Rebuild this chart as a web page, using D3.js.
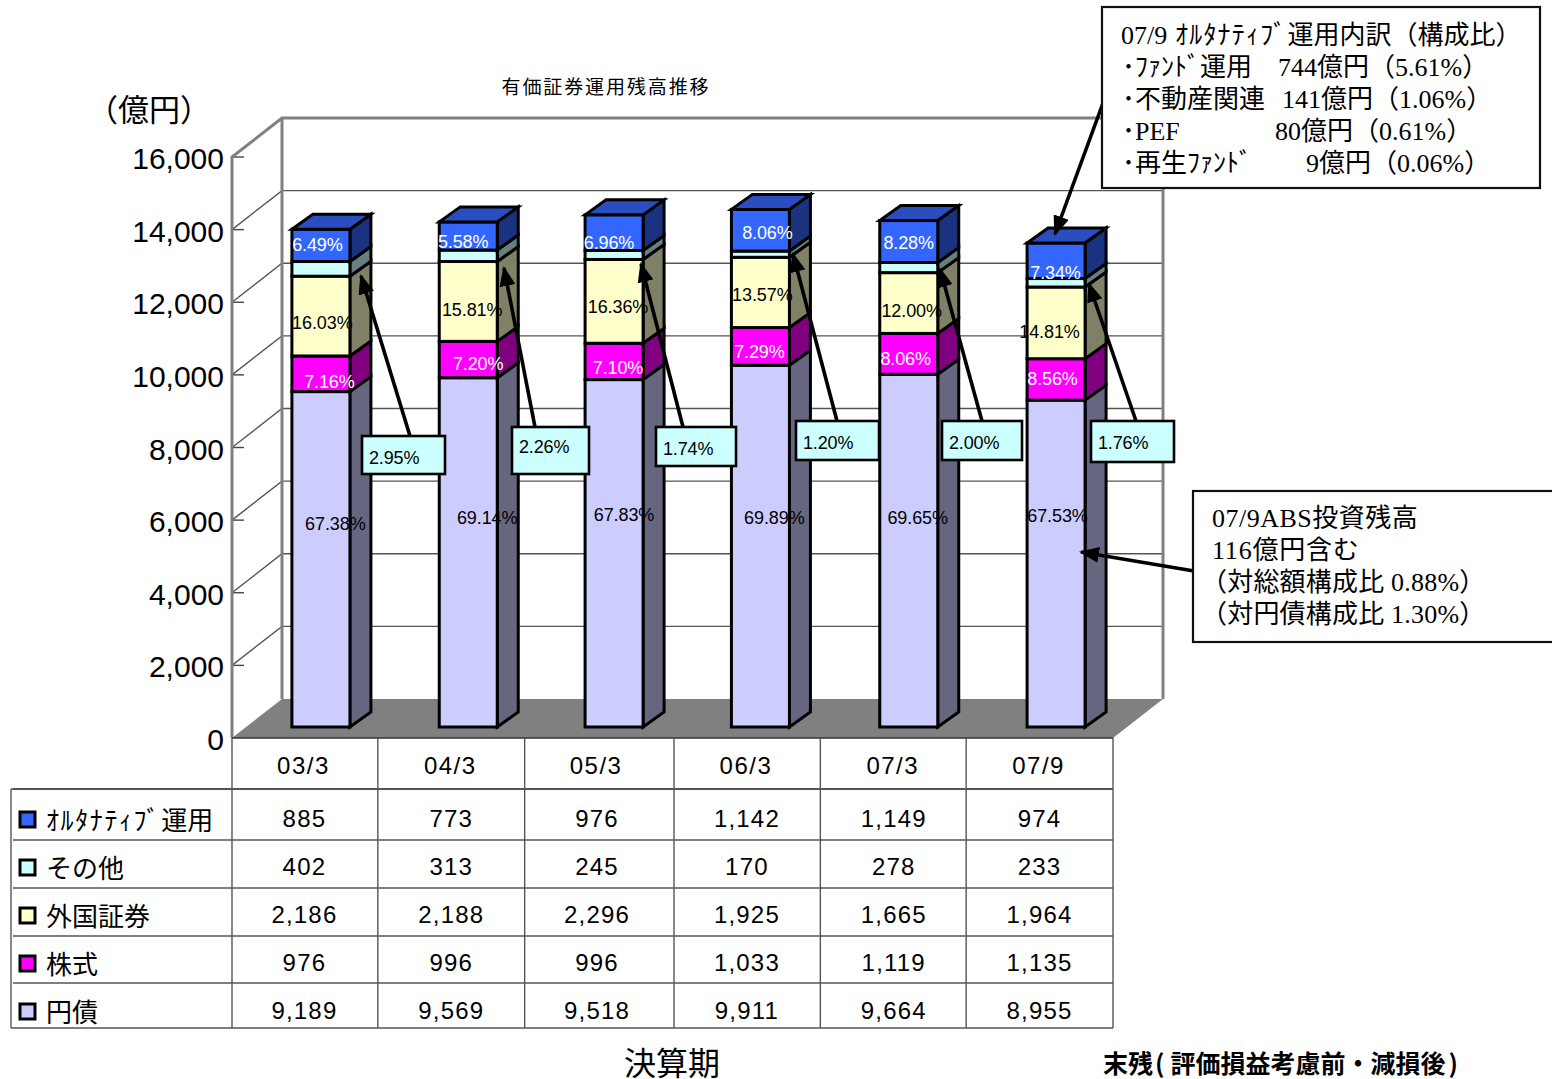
<!DOCTYPE html>
<html><head><meta charset="utf-8">
<script src="https://cdn.jsdelivr.net/npm/d3@7"></script>
<style>
html,body{margin:0;padding:0;background:#fff}
svg{display:block}
text{fill:#000}
</style></head><body><svg id="c" width="1552" height="1079"></svg>
<script>
// ---- data ----
const categories = ["03/3","04/3","05/3","06/3","07/3","07/9"];
const yenBonds  = [9189,9569,9518,9911,9664,8955];
const equities  = [976,996,996,1033,1119,1135];
const foreign   = [2186,2188,2296,1925,1665,1964];
const others    = [402,313,245,170,278,233];
const alternatives = [885,773,976,1142,1149,974];
const seriesNames = ["円債","株式","外国証券","その他","ｵﾙﾀﾅﾃｨﾌﾞ運用"];
const yTicks = [0,2000,4000,6000,8000,10000,12000,14000,16000];
const pctYen = ["67.38%","69.14%","67.83%","69.89%","69.65%","67.53%"];
const pctEq  = ["7.16%","7.20%","7.10%","7.29%","8.06%","8.56%"];
const pctFor = ["16.03%","15.81%","16.36%","13.57%","12.00%","14.81%"];
const pctOth = ["2.95%","2.26%","1.74%","1.20%","2.00%","1.76%"];
const pctAlt = ["6.49%","5.58%","6.96%","8.06%","8.28%","7.34%"];

// ---- styling ----
const faceColors = ["#CCCCFF","#FF00FF","#FFFFCC","#CCFFFF","#3366FF"];
const sideColors = ["#666680","#800080","#808066","#668080","#1A3380"];
const topColor = "#2A4DBF";
const GOTHIC = "'Noto Sans CJK JP','Noto Sans',sans-serif";
const SANS = "'Liberation Sans',Arial,sans-serif";
const SERIF = "'Liberation Serif','Noto Sans CJK JP',serif";

// label nudges relative to the centre of each segment (dx,dy), by series then category
const nudge = {
  0:[[14,-36],[19,-35],[9,-39],[12.5,-29],[9,-33.5],[2,-49]],
  1:[[8,7],[10,3.5],[3,6],[-2.5,5],[-3,4],[-3,-1.5]],
  2:[[1,6],[4,8],[3,5],[.5,2],[3,7],[-6,8]],
  4:[[-4,-1],[-5,5],[-6,9],[5.5,2],[0,0],[0,11]]
};
// small per-column offsets of the drawing
const barNudge = [0.5,1,0,-.5,1,1.5];
const columnNudge = [0,0,-1,2,2,1];
const ruleNudge = [0,-1,-1,1.5,1,0];
// callouts for the その他 share: box [x,y,w,h], arrow start, arrow tip
const calloutBox = [[362,436,83,38],[512,427,77,47],[656,427,80,39],[796,421,83,39],[942,421,80,39],[1091,421,83,41]];
const calloutTail = [[410,436],[535,427],[683,427],[837,421],[982,421],[1136,421]];
const calloutTip = [[361,276],[504,268],[641,264],[793,254],[940,269],[1089,284]];

// ---- scales ----
const x = d3.scaleBand().domain(categories).range([232,1113]);
const y = d3.scaleLinear().domain([0,16000]).range([738,157]);
const yBar = d3.scaleLinear().domain([0,16000]).range([727,143]);
const depthX = 50, depthY = 39;       // floor depth
const barDX = 21, barDY = 15;         // bar depth
const barW = 58;

const svg = d3.select("#c");
const defs = svg.append("defs");
defs.append("marker").attr("id","ah").attr("markerUnits","userSpaceOnUse")
  .attr("markerWidth",20).attr("markerHeight",16).attr("refX",18).attr("refY",8).attr("orient","auto")
  .append("path").attr("d","M0,0L20,8L0,16Z").attr("fill","#000");

// ---- walls ----
const x0 = x.range()[0], x1 = x.range()[1], y0 = y(0), yT = y(16000);
svg.append("path").attr("d",`M${x0},${y0}L${x0+depthX},${y0-depthY}L${x1+depthX},${y0-depthY}L${x1},${y0}Z`).attr("fill","#808080");

const grid = svg.append("g");
yTicks.forEach(t=>{
  if(t===0) return;
  const yy = y(t);
  if(t<16000){
    grid.append("path").attr("d",`M${x0},${yy}L${x0+depthX},${yy-depthY}L${x1+depthX},${yy-depthY}`)
      .attr("fill","none").attr("stroke","#555").attr("stroke-width",1.4);
  }
  grid.append("line").attr("x1",x0).attr("x2",x0+12).attr("y1",yy).attr("y2",yy).attr("stroke","#444").attr("stroke-width",1.4);
});
svg.append("path").attr("d",`M${x0},${y0}L${x0},${yT}L${x0+depthX},${yT-depthY}L${x1+depthX},${yT-depthY}L${x1+depthX},${y0-depthY}`)
  .attr("fill","none").attr("stroke","#808080").attr("stroke-width",3);
svg.append("line").attr("x1",x0+depthX).attr("x2",x0+depthX).attr("y1",yT-depthY).attr("y2",y0-depthY).attr("stroke","#808080").attr("stroke-width",3);

// y labels
svg.append("g").selectAll("text").data(yTicks).join("text")
  .attr("x",224).attr("y",d=>y(d)+12).attr("text-anchor","end")
  .style("font",`30px ${SANS}`).text(d=>d3.format(",")(d));

// ---- stacked bars ----
const rows = categories.map((c,i)=>({c,i,"0":yenBonds[i],"1":equities[i],"2":foreign[i],"3":others[i],"4":alternatives[i]}));
const stacked = d3.stack().keys(["0","1","2","3","4"])(rows);
const barLeft = d => x(d.c)+x.bandwidth()/2+15-barW/2+barNudge[d.i];
const gBars = svg.append("g");
stacked.forEach((layer,s)=>{
  layer.forEach(d=>{
    const L = barLeft(d.data), R = L+barW, a = yBar(d[0]), b = yBar(d[1]);
    gBars.append("path").attr("d",`M${R},${a}L${R+barDX},${a-barDY}L${R+barDX},${b-barDY}L${R},${b}Z`)
      .attr("fill",sideColors[s]).attr("stroke","#000").attr("stroke-width",3).attr("stroke-linejoin","miter");
    gBars.append("rect").attr("x",L).attr("y",b).attr("width",barW).attr("height",a-b)
      .attr("fill",faceColors[s]).attr("stroke","#000").attr("stroke-width",3);
    if(s===4){
      gBars.append("path").attr("d",`M${L},${b}L${L+barDX},${b-barDY}L${R+barDX},${b-barDY}L${R},${b}Z`)
        .attr("fill",topColor).attr("stroke","#000").attr("stroke-width",3);
    }
  });
});

// percentage labels
const pctSets = {0:pctYen,1:pctEq,2:pctFor,4:pctAlt};
const labelColors = {0:"#000",1:"#fff",2:"#000",4:"#fff"};
Object.keys(pctSets).forEach(sk=>{
  const s = +sk;
  stacked[s].forEach((d,i)=>{
    const cx = x(d.data.c)+x.bandwidth()/2+16, cy = (yBar(d[0])+yBar(d[1]))/2;
    const lab = pctSets[s][i];
    svg.append("text").attr("x",cx+nudge[s][i][0]).attr("y",cy+nudge[s][i][1]+7)
      .attr("text-anchor","middle").attr("textLength",lab.length*10.1).attr("lengthAdjust","spacing")
      .style("font",`18px ${SANS}`).style("fill",labelColors[s]).text(lab);
  });
});

// callouts
const gCall = svg.append("g");
pctOth.forEach((lab,i)=>{
  gCall.append("line").attr("x1",calloutTail[i][0]).attr("y1",calloutTail[i][1]).attr("x2",calloutTip[i][0]).attr("y2",calloutTip[i][1])
    .attr("stroke","#000").attr("stroke-width",3.6).attr("marker-end","url(#ah)");
  const b = calloutBox[i];
  gCall.append("rect").attr("x",b[0]).attr("y",b[1]).attr("width",b[2]).attr("height",b[3])
    .attr("fill","#CCFFFF").attr("stroke","#000").attr("stroke-width",2.6);
  gCall.append("text").attr("x",b[0]+7).attr("y",b[1]+28-(b[3]>45?2:0))
    .attr("textLength",lab.length*10.1).attr("lengthAdjust","spacing")
    .style("font",`18px ${SANS}`).text(lab);
});

// ---- data table ----
const rowLines = [789,840,888,936,983];
const tableBottom = 1028, tableLeft = 11;
const gT = svg.append("g");
rowLines.forEach(yy=>gT.append("line").attr("x1",tableLeft+2).attr("x2",x1).attr("y1",yy).attr("y2",yy).attr("stroke","#555").attr("stroke-width",1.4));
gT.append("line").attr("x1",tableLeft).attr("x2",x1).attr("y1",tableBottom).attr("y2",tableBottom).attr("stroke","#555").attr("stroke-width",1.4);
gT.append("line").attr("x1",tableLeft).attr("x2",x1).attr("y1",789).attr("y2",789).attr("stroke","#444").attr("stroke-width",1.4);
gT.append("line").attr("x1",x0).attr("x2",x1).attr("y1",y0).attr("y2",y0).attr("stroke","#333").attr("stroke-width",1.4);
gT.append("line").attr("x1",tableLeft).attr("x2",tableLeft).attr("y1",789).attr("y2",tableBottom).attr("stroke","#555").attr("stroke-width",1.4);
categories.forEach((c,i)=>{
  const xx = x(c)+ruleNudge[i];
  gT.append("line").attr("x1",xx).attr("x2",xx).attr("y1",y0).attr("y2",tableBottom).attr("stroke","#555").attr("stroke-width",1.4);
});
gT.append("line").attr("x1",x1).attr("x2",x1).attr("y1",y0).attr("y2",tableBottom).attr("stroke","#555").attr("stroke-width",1.4);
categories.forEach((c,i)=>{
  gT.append("text").attr("x",x(c)+x.bandwidth()/2-2+columnNudge[i]).attr("y",774).attr("text-anchor","middle")
    .style("font",`24px ${SANS}`).style("letter-spacing","1.5px").text(c);
});
const tableRows = [alternatives,others,foreign,equities,yenBonds];
const tableKeys = [4,3,2,1,0];
const rowBase = [827,875,923,971,1019];
const keyMid = [820,868,916,964,1012];
tableRows.forEach((vals,r)=>{
  vals.forEach((v,i)=>{
    gT.append("text").attr("x",x(categories[i])+x.bandwidth()/2-1+columnNudge[i]).attr("y",rowBase[r]).attr("text-anchor","middle")
      .style("font",`24px ${SANS}`).style("letter-spacing","1.2px").text(d3.format(",")(v));
  });
  gT.append("rect").attr("x",20).attr("y",keyMid[r]-8).attr("width",15).attr("height",15)
    .attr("fill",faceColors[tableKeys[r]]).attr("stroke","#000").attr("stroke-width",3);
  const nm = seriesNames[tableKeys[r]];
  const t = gT.append("text").attr("x",46).attr("y",keyMid[r]+10).style("font",`26px ${GOTHIC}`);
  if(nm.startsWith("ｵ")){
    t.append("tspan").style("letter-spacing","1.6px").text("ｵﾙﾀﾅﾃｨﾌﾞ");
    t.append("tspan").text("運用");
  } else t.text(nm);
});

// ---- titles ----
svg.append("text").attr("x",606).attr("y",94).attr("text-anchor","middle")
  .style("font",`19px ${GOTHIC}`).style("letter-spacing","1.9px").text("有価証券運用残高推移");
svg.append("text").attr("x",87).attr("y",121).style("font",`31px ${GOTHIC}`).text("（億円）");
svg.append("text").attr("x",624).attr("y",1075).style("font",`32px ${GOTHIC}`).text("決算期");
svg.append("text").attr("x",1103).attr("y",1073).style("font",`bold 25px ${GOTHIC}`).call(t=>{
  t.append("tspan").text("末残");
  t.append("tspan").attr("dx",2).text("(");
  t.append("tspan").attr("dx",6).text("評価損益考慮前・減損後");
  t.append("tspan").attr("dx",3).text(")");
});

// ---- annotation boxes ----
function arrow(a,b){
  svg.append("line").attr("x1",a[0]).attr("y1",a[1]).attr("x2",b[0]).attr("y2",b[1])
    .attr("stroke","#000").attr("stroke-width",3.6).attr("marker-end","url(#ah)");
}
arrow([1103,103],[1055,234]);
arrow([1194,571],[1081,552]);
svg.append("rect").attr("x",1102).attr("y",7).attr("width",438).attr("height",181).attr("fill","#fff").attr("stroke","#111").attr("stroke-width",2.2);
svg.append("rect").attr("x",1193).attr("y",491).attr("width",362).attr("height",151).attr("fill","#fff").attr("stroke","#111").attr("stroke-width",2.2);

function serif(txt,xx,yy,ls){ return svg.append("text").attr("x",xx).attr("y",yy).style("font",`26px ${SERIF}`).style("letter-spacing",ls||"0").text(txt); }
serif("07/9 ",1121,44);
svg.append("text").attr("x",1175).attr("y",44).style("font",`26px ${GOTHIC}`).call(t=>{
  t.append("tspan").style("letter-spacing","1.2px").text("ｵﾙﾀﾅﾃｨﾌﾞ");
  t.append("tspan").text("運用内訳（構成比）");
});
svg.append("text").attr("x",1122).attr("y",76).style("font",`26px ${GOTHIC}`).text("･ﾌｧﾝﾄﾞ運用");
serif("744億円（5.61%）",1278,76);
svg.append("text").attr("x",1122).attr("y",108).style("font",`26px ${GOTHIC}`).text("･不動産関連");
serif("141億円（1.06%）",1282,108);
svg.append("text").attr("x",1122).attr("y",140).style("font",`26px ${GOTHIC}`).text("･");
serif("PEF",1135,140);
serif("80億円（0.61%）",1275,140);
svg.append("text").attr("x",1122).attr("y",172).style("font",`26px ${GOTHIC}`).text("･再生ﾌｧﾝﾄﾞ");
serif("9億円（0.06%）",1306,172);

serif("07/9ABS投資残高",1212,527,".5px");
serif("116億円含む",1212,559,".8px");
serif("（対総額構成比 0.88%）",1201,591,".2px");
serif("（対円債構成比 1.30%）",1201,623,".2px");
</script></body></html>
